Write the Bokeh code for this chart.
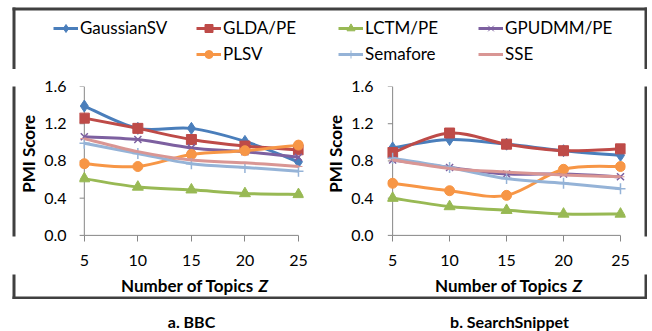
import math
import numpy as np
from bokeh.plotting import figure
from bokeh.models import Legend, LegendItem, FixedTicker, Label, Range1d
from bokeh.layouts import column, row
from bokeh.embed import file_html
from bokeh.resources import INLINE

# ---------------- data ----------------
topics = [5, 10, 15, 20, 25]
y_ticks = [0.0, 0.4, 0.8, 1.2, 1.6]
y_tick_labels = ["0.0", "0.4", "0.8", "1.2", "1.6"]
series_names = ["GaussianSV", "GLDA/PE", "LCTM/PE", "GPUDMM/PE", "PLSV", "Semafore", "SSE"]

bbc_gaussiansv = [1.39, 1.15, 1.15, 1.01, 0.79]
bbc_glda = [1.26, 1.15, 1.03, 0.96, 0.92]
bbc_lctm = [0.61, 0.52, 0.49, 0.45, 0.44]
bbc_gpudmm = [1.06, 1.03, 0.94, 0.90, 0.84]
bbc_plsv = [0.77, 0.74, 0.87, 0.91, 0.97]
bbc_semafore = [0.99, 0.88, 0.77, 0.73, 0.69]
bbc_sse = [1.04, 0.90, 0.81, 0.78, 0.74]

ss_gaussiansv = [0.94, 1.03, 0.98, 0.91, 0.86]
ss_glda = [0.89, 1.10, 0.98, 0.91, 0.93]
ss_lctm = [0.40, 0.31, 0.27, 0.23, 0.23]
ss_gpudmm = [0.81, 0.73, 0.66, 0.66, 0.63]
ss_plsv = [0.56, 0.48, 0.43, 0.71, 0.74]
ss_semafore = [0.83, 0.73, 0.61, 0.56, 0.50]
ss_sse = [0.81, 0.72, 0.68, 0.65, 0.63]

x_title = "Number of Topics "
x_title_var = "Z"
y_title = "PMI Score"
captions = ["a. BBC", "b. SearchSnippet"]

bbc = [bbc_gaussiansv, bbc_glda, bbc_lctm, bbc_gpudmm, bbc_plsv, bbc_semafore, bbc_sse]
ss = [ss_gaussiansv, ss_glda, ss_lctm, ss_gpudmm, ss_plsv, ss_semafore, ss_sse]

# ---------------- styles ----------------
FONT = "Lato"
AXIS_GRAY = "#868686"
BORDER = "#404040"
BW = 3  # border width in px
styles = [
    dict(color="#4A7EBB", marker="diamond", size=12, lw=3),
    dict(color="#BE4B48", marker="square", size=10, lw=3),
    dict(color="#98B954", marker="triangle", size=11, lw=3),
    dict(color="#7D60A0", marker="x", size=10, lw=3),
    dict(color="#F79646", marker="circle", size=10, lw=3),
    dict(color="#95B3D7", marker="cross", size=11, lw=3),
    dict(color="#D99694", marker="dash", size=8, lw=3),
]


def strip(width, height, sides=()):
    """Frame-filling figure in pixel coordinates; draws parts of the outer box border."""
    f = figure(width=width, height=height, x_range=Range1d(0, width), y_range=Range1d(0, height),
               output_backend="svg", toolbar_location=None,
               x_axis_location=None, y_axis_location=None, min_border=0)
    f.outline_line_color = None
    f.grid.visible = False
    rects = {"left": (-2, BW, -2, height + 2), "right": (width - BW, width + 2, -2, height + 2),
             "top": (-2, width + 2, height - BW, height + 2), "bottom": (-2, width + 2, -2, BW)}
    for s in sides:
        l, r, b, t = rects[s]
        f.quad(left=[l], right=[r], bottom=[b], top=[t], fill_color=BORDER, line_color=None)
    return f


def smooth_segments(xs, ys):
    x = np.asarray(xs, float)
    y = np.asarray(ys, float)
    xp = np.concatenate([[x[0]], x, [x[-1]]])
    yp = np.concatenate([[y[0]], y, [y[-1]]])
    out = dict(x0=[], y0=[], x1=[], y1=[], cx0=[], cy0=[], cx1=[], cy1=[])
    for i in range(len(x) - 1):
        out["x0"].append(xp[i + 1]); out["y0"].append(yp[i + 1])
        out["x1"].append(xp[i + 2]); out["y1"].append(yp[i + 2])
        out["cx0"].append(xp[i + 1] + (xp[i + 2] - xp[i]) / 6.0)
        out["cy0"].append(yp[i + 1] + (yp[i + 2] - yp[i]) / 6.0)
        out["cx1"].append(xp[i + 2] - (xp[i + 3] - xp[i + 1]) / 6.0)
        out["cy1"].append(yp[i + 2] - (yp[i + 3] - yp[i + 1]) / 6.0)
    return out


PLOT_H = 205


def make_panel(data, width, mbl, mbr, x_start, x_end, label_standoff, tick_units):
    p = figure(width=width, height=PLOT_H, x_range=Range1d(x_start, x_end),
               y_range=Range1d(-0.012, 1.6),
               output_backend="svg", toolbar_location=None,
               min_border_left=mbl, min_border_right=mbr, min_border_top=17, min_border_bottom=38)
    p.outline_line_color = None
    p.grid.visible = False
    for ax in (p.xaxis[0], p.yaxis[0]):
        ax.axis_line_color = None
        ax.minor_tick_line_color = None
        ax.major_tick_out = 5
        ax.major_label_text_font = FONT
        ax.major_label_text_font_size = "16px"
        ax.major_label_text_color = "#000000"
    p.xaxis.major_tick_line_color = AXIS_GRAY
    p.xaxis.major_tick_in = 1
    p.yaxis.major_tick_in = 0
    p.yaxis.major_tick_line_color = None
    p.xaxis.ticker = FixedTicker(ticks=topics)
    p.yaxis.ticker = FixedTicker(ticks=y_ticks)
    p.yaxis.major_label_overrides = {t: l for t, l in zip(y_ticks, y_tick_labels)}
    p.yaxis.major_label_standoff = label_standoff
    p.xaxis.major_label_standoff = 13

    # axis lines and y tick marks at the data extent (Excel style)
    x0 = topics[0]
    p.segment(x0=[x0], y0=[y_ticks[0]], x1=[x0], y1=[y_ticks[-1]], line_color=AXIS_GRAY, line_width=1)
    p.segment(x0=[topics[0]], y0=[0], x1=[topics[-1]], y1=[0], line_color=AXIS_GRAY, line_width=1)
    p.segment(x0=[x0 - tick_units] * len(y_ticks), y0=y_ticks, x1=[x0] * len(y_ticks), y1=y_ticks,
              line_color=AXIS_GRAY, line_width=1)

    for vals, st in zip(data, styles):
        seg = smooth_segments(topics, vals)
        p.bezier(x0="x0", y0="y0", x1="x1", y1="y1", cx0="cx0", cy0="cy0", cx1="cx1", cy1="cy1",
                 source=seg, line_color=st["color"], line_width=st["lw"])
        p.scatter(topics, vals, marker=st["marker"], size=st["size"], fill_color=st["color"],
                  line_color=st["color"], line_width=1.5 if st["marker"] in ("x", "cross") else 1)
    return p


left = make_panel(bbc, 280, 41, 15, 4.55, 25.47, 8, 0.47)
right = make_panel(ss, 293, 41, 14, 4.55, 25.44, 9, 0.44)


def ylab_strip(width, cx, sides=()):
    s = strip(width, PLOT_H, sides)
    s.add_layout(Label(x=cx, y=PLOT_H - 92, text=y_title, angle=math.pi / 2,
                       text_align="center", text_baseline="middle", text_font=FONT,
                       text_font_size="17px", text_font_style="bold", text_color="#000000"))
    return s


ylab_l = ylab_strip(26, 16, sides=("left",))
ylab_r = ylab_strip(28, 17)
right_edge = strip(8, PLOT_H, sides=("right",))

# ---------------- legend strip ----------------
LF_H = 62
lf = strip(635, LF_H, sides=("left", "right", "top"))
leg_pos = [(41, 31), (184, 31), (326, 31), (466, 31), (184, 5), (326, 5), (466, 5)]
for name, st, pos in zip(series_names, styles, leg_pos):
    rl = lf.line(x=[-30, -20], y=[-30, -20], line_color=st["color"], line_width=st["lw"])
    rm = lf.scatter(x=[-30], y=[-30], marker=st["marker"], size=max(st["size"] - 3, 6),
                    fill_color=st["color"], line_color=st["color"])
    leg = Legend(items=[LegendItem(label=name, renderers=[rl, rm])], location=pos,
                 orientation="horizontal", padding=0, margin=0, spacing=0,
                 border_line_color=None, background_fill_alpha=0,
                 glyph_width=25, glyph_height=20, label_height=20, label_standoff=2,
                 label_text_font=FONT, label_text_font_size="17px", label_text_color="#000000")
    lf.add_layout(leg)

# ---------------- x-axis title strip ----------------
TF_H = 25
tf = strip(635, TF_H, sides=("left", "right", "bottom"))
for cx in (180, 494):
    tf.add_layout(Label(x=cx + 66, y=14.5, text=x_title, text_align="right",
                        text_baseline="middle", text_font=FONT, text_font_size="17px",
                        text_font_style="bold", text_color="#000000"))
    tf.add_layout(Label(x=cx + 66, y=14.5, text=x_title_var, text_align="left",
                        text_baseline="middle", text_font=FONT, text_font_size="17px",
                        text_font_style="bold italic", text_color="#000000"))

framed = column(lf, row(ylab_l, left, ylab_r, right, right_edge), tf, margin=(7, 0, 0, 12))

# ---------------- captions ----------------
cf = strip(652, 32)
for txt, cx in zip(captions, [191, 509]):
    cf.add_layout(Label(x=cx, y=10, text=txt, text_align="center", text_baseline="middle",
                        text_font=FONT, text_font_size="16px", text_font_style="bold",
                        text_color="#000000"))

page = column(framed, cf)
open("out.html", "w").write(file_html(page, INLINE))
